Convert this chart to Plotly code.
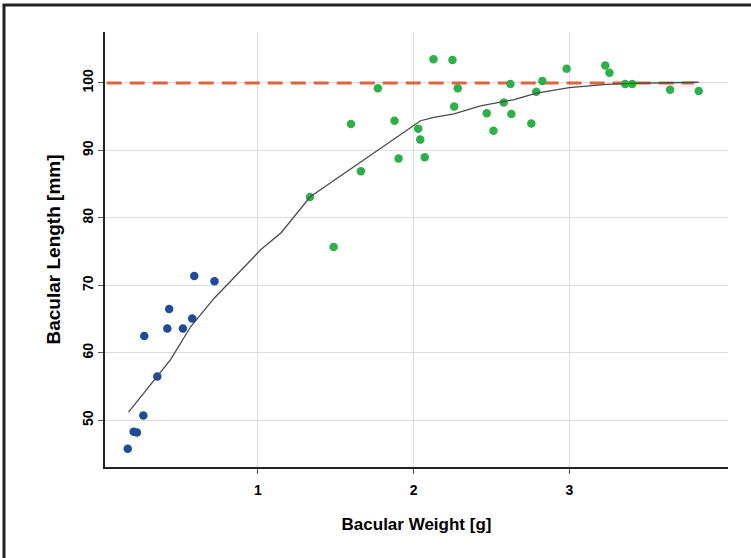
import plotly.graph_objects as go

# Blue group (juveniles)
blue_x = [0.165, 0.203, 0.224, 0.265, 0.271, 0.355, 0.419, 0.431, 0.519, 0.579, 0.592, 0.722]
blue_y = [45.8, 48.3, 48.2, 50.7, 62.5, 56.5, 63.6, 66.5, 63.6, 65.1, 71.4, 70.6]

# Green group (adults)
green_x = [2.128, 2.25, 1.771, 2.284, 2.622, 2.261, 1.598, 1.878, 2.03, 2.47, 2.628, 2.579,
           2.513, 2.756, 2.043, 1.904, 2.072, 1.662, 1.335, 1.487, 2.788, 2.827, 2.983,
           3.231, 3.258, 3.359, 3.404, 3.647, 3.831]
green_y = [103.5, 103.4, 99.2, 99.2, 99.85, 96.5, 93.9, 94.4, 93.2, 95.5, 95.4, 97.1,
           92.9, 94.0, 91.6, 88.8, 89.0, 86.9, 83.1, 75.7, 98.7, 100.3, 102.1,
           102.6, 101.5, 99.85, 99.85, 99.0, 98.8]

# Smoothed fit
fit_x = [0.17, 0.44, 0.57, 0.72, 1.02, 1.15, 1.335, 1.77, 2.045, 2.13, 2.26, 2.43, 2.58,
         2.64, 2.79, 3.0, 3.24, 3.41, 3.83]
fit_y = [51.2, 59.0, 63.9, 68.1, 75.3, 77.8, 83.1, 90.1, 94.4, 94.9, 95.4, 96.6, 97.2,
         97.5, 98.5, 99.3, 99.8, 99.95, 100.1]

# Asymptote
asym_x = [0.03, 3.8]
asym_y = [100, 100]

x_ticks = [1, 2, 3]
y_ticks = [50, 60, 70, 80, 90, 100]

FONT = "Liberation Sans, Arial, sans-serif"

fig = go.Figure()
fig.add_trace(go.Scatter(x=asym_x, y=asym_y, mode="lines",
                         line=dict(color="#E4623A", width=3, dash="15px,8px"),
                         hoverinfo="skip"))
fig.add_trace(go.Scatter(x=blue_x, y=blue_y, mode="markers",
                         marker=dict(color="#1F4C96", size=8.5)))
fig.add_trace(go.Scatter(x=green_x, y=green_y, mode="markers",
                         marker=dict(color="#2DB04B", size=8.5)))
fig.add_trace(go.Scatter(x=fit_x, y=fit_y, mode="lines",
                         line=dict(color="#4a4a4a", width=1.3)))

axis_font = dict(family=FONT, size=14, color="black")

fig.update_layout(
    width=751, height=558,
    margin=dict(l=105, r=23, t=32, b=91),
    paper_bgcolor="white", plot_bgcolor="white",
    showlegend=False,
    font=dict(family=FONT, color="black"),
    xaxis=dict(range=[0.019, 4.019], tickvals=x_ticks, ticktext=["<b>%d</b>" % v for v in x_ticks],
               showgrid=True, gridcolor="#dcdcdc", gridwidth=1,
               showline=True, linecolor="#222", linewidth=1.5,
               ticks="outside", ticklen=5, tickcolor="#555", tickfont=axis_font,
               ticklabelstandoff=4,
               zeroline=False,
               title=dict(text="<b>Bacular Weight [g]</b>",
                          font=dict(family=FONT, size=17, color="black"),
                          standoff=22)),
    yaxis=dict(range=[43.08, 107.55], tickvals=y_ticks, ticktext=["<b>%d</b>" % v for v in y_ticks],
               tickangle=270,
               showgrid=True, gridcolor="#dcdcdc", gridwidth=1,
               showline=True, linecolor="#222", linewidth=1.5,
               ticks="outside", ticklen=5, tickcolor="#555", tickfont=axis_font,
               ticklabelstandoff=0,
               zeroline=False,
               title=dict(text="<b>Bacular Length [mm]</b>",
                          font=dict(family=FONT, size=19, color="black"),
                          standoff=14)),
    shapes=[dict(type="rect", xref="paper", yref="paper",
                 x0=(4 - 105) / 623, x1=1.2, y0=-0.4, y1=1 + (32 - 5) / 435,
                 line=dict(color="#222", width=3), fillcolor="rgba(0,0,0,0)", layer="above")],
)

fig.write_html("out.html", config={"displayModeBar": False},
               post_script="document.body.style.margin='0';")
